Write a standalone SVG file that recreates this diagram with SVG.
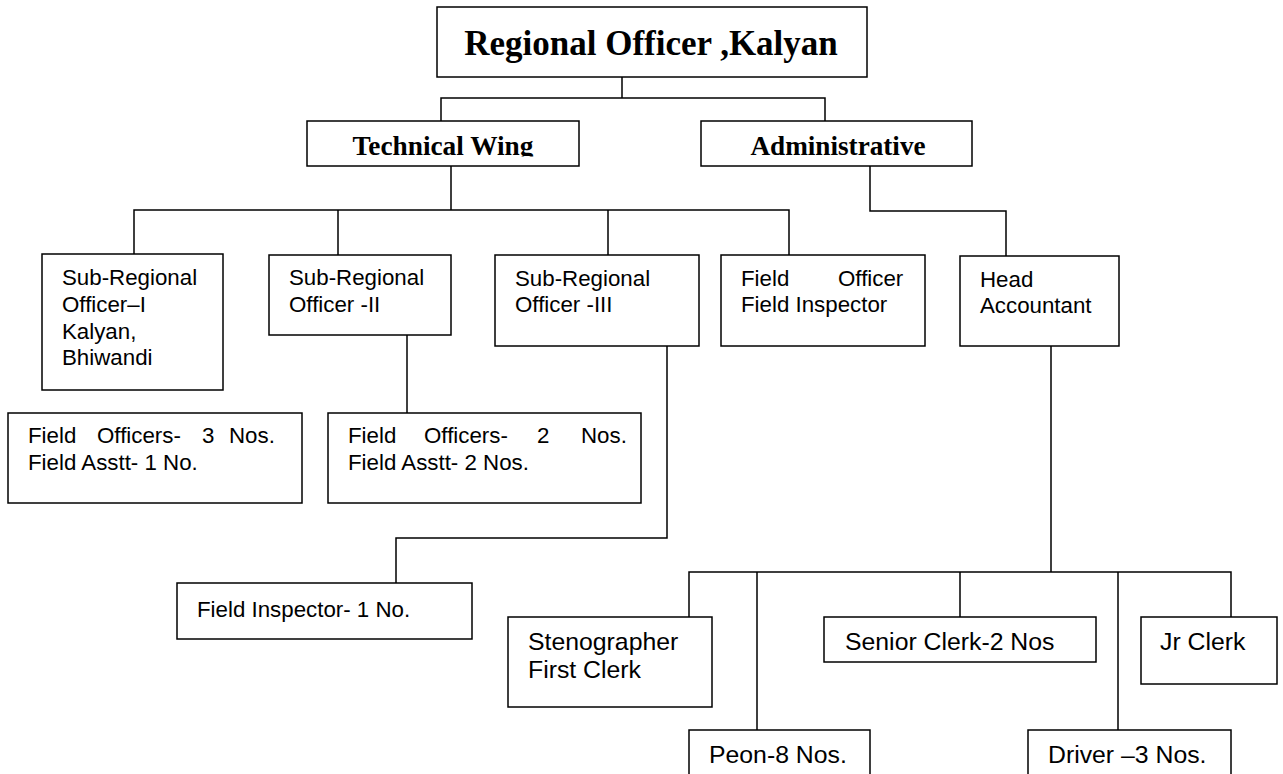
<svg xmlns="http://www.w3.org/2000/svg" width="1283" height="774" viewBox="0 0 1283 774">
<style>
.box{fill:#fff;stroke:#000;stroke-width:1.5}
.ln{fill:none;stroke:#000;stroke-width:1.5}
.t{font-family:"Liberation Sans",Arial,sans-serif;font-size:22.3px;fill:#000}
.tb{font-family:"Liberation Sans",Arial,sans-serif;font-size:24.8px;fill:#000}
.h{font-family:"Liberation Serif","Times New Roman",serif;font-weight:bold;fill:#000;text-anchor:middle}
</style>
<defs>
<clipPath id="clipTech"><rect x="307" y="121" width="272" height="35.5"/></clipPath>
<clipPath id="clipAdmin"><rect x="701" y="121" width="271" height="35.5"/></clipPath>
</defs>
<rect width="1283" height="774" fill="#fff"/>
<g id="connectors">
<path class="ln" d="M622 77V98M441 121V98H825V121"/>
<path class="ln" d="M451 166V210M134 254V210H789V255M338 210V255M608 210V255"/>
<path class="ln" d="M870 166V211H1006V256"/>
<path class="ln" d="M407 335V413"/>
<path class="ln" d="M667 338V538H396V583"/>
<path class="ln" d="M1051 346V572M689 617V572H1231V617M757 572V730M960 572V617M1118 572V730"/>
</g>
<g id="regional-officer">
<rect class="box" x="437" y="7" width="430" height="70"/>
<text class="h" x="651" y="55" font-size="35">Regional Officer ,Kalyan</text>
</g>
<g id="technical-wing">
<rect class="box" x="307" y="121" width="272" height="45"/>
<text class="h" x="443" y="155" font-size="27.3" clip-path="url(#clipTech)">Technical Wing</text>
</g>
<g id="administrative">
<rect class="box" x="701" y="121" width="271" height="45"/>
<text class="h" x="838" y="155" font-size="27.2" clip-path="url(#clipAdmin)">Administrative</text>
</g>
<g id="sro-1">
<rect class="box" x="42" y="254" width="181" height="136"/>
<text class="t"><tspan x="62" y="285">Sub-Regional</tspan><tspan x="62" y="312">Officer–I</tspan><tspan x="62" y="339">Kalyan,</tspan><tspan x="62" y="365">Bhiwandi</tspan></text>
</g>
<g id="sro-2">
<rect class="box" x="269" y="255" width="182" height="80"/>
<text class="t"><tspan x="289" y="285">Sub-Regional</tspan><tspan x="289" y="312">Officer -II</tspan></text>
</g>
<g id="sro-3">
<rect class="box" x="495" y="255" width="204" height="91"/>
<text class="t"><tspan x="515" y="286">Sub-Regional</tspan><tspan x="515" y="312">Officer -III</tspan></text>
</g>
<g id="field-officer">
<rect class="box" x="721" y="255" width="204" height="91"/>
<text class="t"><tspan x="741" y="286">Field</tspan><tspan x="838" y="286">Officer</tspan><tspan x="741" y="312">Field Inspector</tspan></text>
</g>
<g id="head-accountant">
<rect class="box" x="960" y="256" width="159" height="90"/>
<text class="t"><tspan x="980" y="287">Head</tspan><tspan x="980" y="313">Accountant</tspan></text>
</g>
<g id="field-officers-3">
<rect class="box" x="8" y="413" width="294" height="90"/>
<text class="t"><tspan x="28" y="443">Field</tspan><tspan x="97" y="443">Officers-</tspan><tspan x="202" y="443">3</tspan><tspan x="229" y="443">Nos.</tspan><tspan x="28" y="470">Field Asstt- 1 No.</tspan></text>
</g>
<g id="field-officers-2">
<rect class="box" x="328" y="413" width="313" height="90"/>
<text class="t"><tspan x="348" y="443">Field</tspan><tspan x="424" y="443">Officers-</tspan><tspan x="537" y="443">2</tspan><tspan x="581" y="443">Nos.</tspan><tspan x="348" y="470">Field Asstt- 2 Nos.</tspan></text>
</g>
<g id="field-inspector">
<rect class="box" x="177" y="583" width="295" height="56"/>
<text class="t" x="197" y="617">Field Inspector- 1 No.</text>
</g>
<g id="stenographer">
<rect class="box" x="508" y="617" width="204" height="90"/>
<text class="tb"><tspan x="528" y="650">Stenographer</tspan><tspan x="528" y="678">First Clerk</tspan></text>
</g>
<g id="peon">
<rect class="box" x="689" y="730" width="181" height="47"/>
<text class="tb" x="709" y="763">Peon-8 Nos.</text>
</g>
<g id="senior-clerk">
<rect class="box" x="824" y="617" width="272" height="45"/>
<text class="tb" x="845" y="650">Senior Clerk-2 Nos</text>
</g>
<g id="jr-clerk">
<rect class="box" x="1141" y="617" width="136" height="67"/>
<text class="tb" x="1160" y="650">Jr Clerk</text>
</g>
<g id="driver">
<rect class="box" x="1028" y="730" width="203" height="47"/>
<text class="tb" x="1048" y="763">Driver –3 Nos.</text>
</g>
</svg>
